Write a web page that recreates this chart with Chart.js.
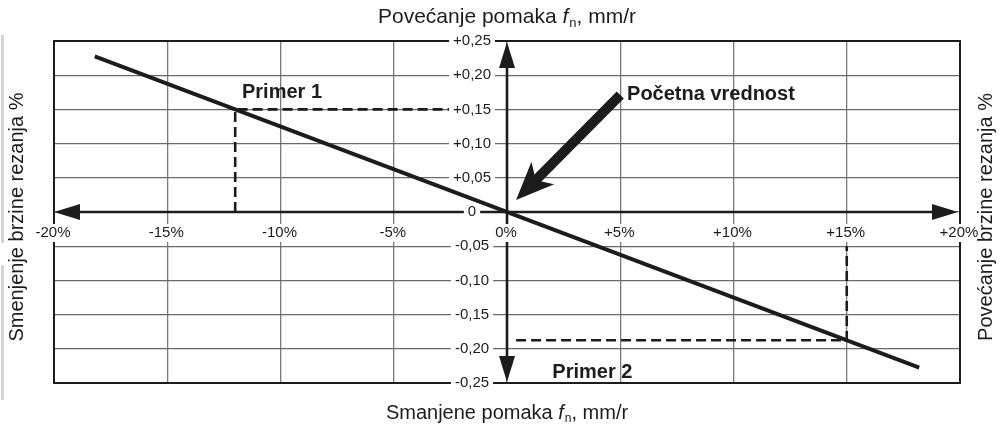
<!DOCTYPE html>
<html>
<head>
<meta charset="utf-8">
<script src="https://cdn.jsdelivr.net/npm/chart.js@4.4.0/dist/chart.umd.min.js"></script>
<style>
  html, body { margin: 0; padding: 0; background: #fff; }
  canvas { display: block; }
</style>
</head>
<body>
<canvas id="chart" width="1001" height="438"></canvas>
<script>
// tick positions and their printed labels
const xTicks = [-20, -15, -10, -5, 0, 5, 10, 15, 20];
const xTickLabels = ['-20%', '-15%', '-10%', '-5%', '0%', '+5%', '+10%', '+15%', '+20%'];
const yTicks = [0.25, 0.2, 0.15, 0.1, 0.05, 0, -0.05, -0.1, -0.15, -0.2, -0.25];
const yTickLabels = ['+0,25', '+0,20', '+0,15', '+0,10', '+0,05', '0', '-0,05', '-0,10', '-0,15', '-0,20', '-0,25'];

// speed change (%) vs feed change (mm/r)
const lineX = [-18.2, 18.2];
const lineY = [0.2275, -0.2275];

// worked examples
const primer1X = [-12, -12, -2.2];
const primer1Y = [0, 0.15, 0.15];
const primer2X = [0.4, 15, 15];
const primer2Y = [-0.1875, -0.1875, -0.05];

// "starting value" pointer: tail, then tip
const startArrowX = [5.0, 0.4];
const startArrowY = [0.171, 0.0175];

const FONT = '"Liberation Sans", Arial, sans-serif';
const INK = '#1c1c1c';

function pts(xs, ys) {
  return xs.map((x, i) => ({ x: x, y: ys[i] }));
}

function triangle(ctx, tx, ty, ux, uy, len, half) {
  // tip at (tx,ty), u points from tip back along the shaft
  const nx = -uy, ny = ux;
  ctx.beginPath();
  ctx.moveTo(tx, ty);
  ctx.lineTo(tx + ux * len + nx * half, ty + uy * len + ny * half);
  ctx.lineTo(tx + ux * len - nx * half, ty + uy * len - ny * half);
  ctx.closePath();
  ctx.fill();
}

function feedTitle(ctx, prefix, cx, cy, size, family) {
  const normal = size + 'px ' + family;
  const italic = 'italic ' + size + 'px ' + family;
  const sub = Math.round(size * 0.62) + 'px ' + family;
  const suffix = ', mm/r';
  ctx.font = normal;
  const w1 = ctx.measureText(prefix).width;
  const w4 = ctx.measureText(suffix).width;
  ctx.font = italic;
  const w2 = ctx.measureText('f').width + 1;
  ctx.font = sub;
  const w3 = ctx.measureText('n').width;
  let x = cx - (w1 + w2 + w3 + w4) / 2;
  ctx.textAlign = 'left';
  ctx.textBaseline = 'middle';
  ctx.font = normal; ctx.fillText(prefix, x, cy); x += w1;
  ctx.font = italic; ctx.fillText('f', x, cy); x += w2;
  ctx.font = sub; ctx.fillText('n', x, cy + size * 0.3); x += w3;
  ctx.font = normal; ctx.fillText(suffix, x, cy);
}

const overlay = {
  id: 'overlay',
  afterDraw(chart) {
    const ctx = chart.ctx;
    const a = chart.chartArea;
    const xs = chart.scales.x, ys = chart.scales.y;
    const x0 = xs.getPixelForValue(0), y0 = ys.getPixelForValue(0);
    ctx.save();

    // scan edge on the far left
    ctx.fillStyle = '#d4d4d4';
    ctx.fillRect(1, 35, 3, 208);
    ctx.fillRect(1, 265, 3, 135);

    // frame
    ctx.strokeStyle = INK;
    ctx.lineWidth = 2;
    ctx.strokeRect(a.left, a.top, a.right - a.left, a.bottom - a.top);

    // axes with arrowheads
    ctx.fillStyle = INK;
    ctx.lineWidth = 2.6;
    const L = 26, H = 8;
    ctx.beginPath();
    ctx.moveTo(a.left + 10, y0); ctx.lineTo(a.right - 10, y0);
    ctx.moveTo(x0, a.top + 10); ctx.lineTo(x0, a.bottom - 10);
    ctx.stroke();
    triangle(ctx, a.left, y0, 1, 0, L, H);
    triangle(ctx, a.right - 2, y0, -1, 0, L, H);
    triangle(ctx, x0, a.top + 1, 0, 1, L, H);
    triangle(ctx, x0, a.bottom - 1, 0, -1, L, H);

    // x tick labels below the horizontal axis
    ctx.font = '15px ' + FONT;
    ctx.textAlign = 'center';
    ctx.textBaseline = 'middle';
    xTicks.forEach((v, i) => {
      const px = xs.getPixelForValue(v) - 1;
      const w = ctx.measureText(xTickLabels[i]).width;
      ctx.fillStyle = '#fff';
      ctx.fillRect(px - w / 2 - 2, y0 + 12, w + 4, 18);
      ctx.fillStyle = INK;
      ctx.fillText(xTickLabels[i], px, y0 + 21);
    });

    // y tick labels beside the vertical axis
    yTicks.forEach((v, i) => {
      const py = ys.getPixelForValue(v);
      const w = ctx.measureText(yTickLabels[i]).width;
      const cx = x0 - 35;
      ctx.fillStyle = '#fff';
      ctx.fillRect(cx - w / 2 - 4, py - 8, w + 8, 16);
      ctx.fillStyle = INK;
      ctx.fillText(yTickLabels[i], cx, py);
    });

    // starting value pointer
    const tx = xs.getPixelForValue(startArrowX[1]), ty = ys.getPixelForValue(startArrowY[1]);
    const sx = xs.getPixelForValue(startArrowX[0]), sy = ys.getPixelForValue(startArrowY[0]);
    const len = Math.hypot(sx - tx, sy - ty);
    const ux = (sx - tx) / len, uy = (sy - ty) / len;
    const nx = -uy, ny = ux;
    ctx.lineWidth = 10;
    ctx.strokeStyle = INK;
    ctx.beginPath();
    ctx.moveTo(tx + ux * 24, ty + uy * 24);
    ctx.lineTo(sx, sy);
    ctx.stroke();
    ctx.beginPath();
    ctx.moveTo(tx, ty);
    ctx.lineTo(tx + ux * 38 + nx * 16, ty + uy * 38 + ny * 16);
    ctx.lineTo(tx + ux * 28, ty + uy * 28);
    ctx.lineTo(tx + ux * 38 - nx * 16, ty + uy * 38 - ny * 16);
    ctx.closePath();
    ctx.fill();

    // callouts
    ctx.fillStyle = INK;
    ctx.textAlign = 'left';
    ctx.font = 'bold 20px ' + FONT;
    ctx.fillText('Primer 1', xs.getPixelForValue(-11.7), ys.getPixelForValue(0.175));
    ctx.fillText('Primer 2', xs.getPixelForValue(2.0), ys.getPixelForValue(-0.235));
    ctx.fillText('Početna vrednost', xs.getPixelForValue(5.3), ys.getPixelForValue(0.172));

    // axis titles
    feedTitle(ctx, 'Povećanje pomaka ', (a.left + a.right) / 2, 17, 21, '"Liberation Sans Narrow", ' + FONT);
    feedTitle(ctx, 'Smanjene pomaka ', (a.left + a.right) / 2, 413, 20, FONT);

    ctx.font = '20px ' + FONT;
    ctx.textAlign = 'center';
    ctx.textBaseline = 'middle';
    const cy = (a.top + a.bottom) / 2 + 5;
    ctx.save();
    ctx.translate(17, cy);
    ctx.rotate(-Math.PI / 2);
    ctx.fillText('Smenjenje brzine rezanja %', 0, 0);
    ctx.restore();
    ctx.save();
    ctx.translate(986, cy);
    ctx.rotate(-Math.PI / 2);
    ctx.fillText('Povećanje brzine rezanja %', 0, 0);
    ctx.restore();

    ctx.restore();
  }
};

new Chart(document.getElementById('chart').getContext('2d'), {
  type: 'scatter',
  data: {
    datasets: [
      {
        data: pts(lineX, lineY),
        showLine: true,
        borderColor: INK,
        borderWidth: 3.8,
        pointRadius: 0
      },
      {
        data: pts(primer1X, primer1Y),
        showLine: true,
        borderColor: INK,
        borderWidth: 2.6,
        borderDash: [10, 5],
        pointRadius: 0
      },
      {
        data: pts(primer2X, primer2Y),
        showLine: true,
        borderColor: INK,
        borderWidth: 2.6,
        borderDash: [10, 5],
        pointRadius: 0
      }
    ]
  },
  options: {
    responsive: false,
    animation: false,
    layout: { padding: { left: 54, right: 41, top: 41, bottom: 55 } },
    plugins: { legend: { display: false }, tooltip: { enabled: false } },
    scales: {
      x: {
        type: 'linear',
        min: -20,
        max: 20,
        afterBuildTicks: (s) => { s.ticks = xTicks.map(v => ({ value: v })); },
        ticks: { display: false },
        grid: { color: '#7a7a7a', lineWidth: 1.3, drawTicks: false },
        border: { display: false }
      },
      y: {
        type: 'linear',
        min: -0.25,
        max: 0.25,
        afterBuildTicks: (s) => { s.ticks = yTicks.map(v => ({ value: v })); },
        ticks: { display: false },
        grid: { color: '#6a6a6a', lineWidth: 1.3, drawTicks: false },
        border: { display: false }
      }
    }
  },
  plugins: [overlay]
});
</script>
</body>
</html>
